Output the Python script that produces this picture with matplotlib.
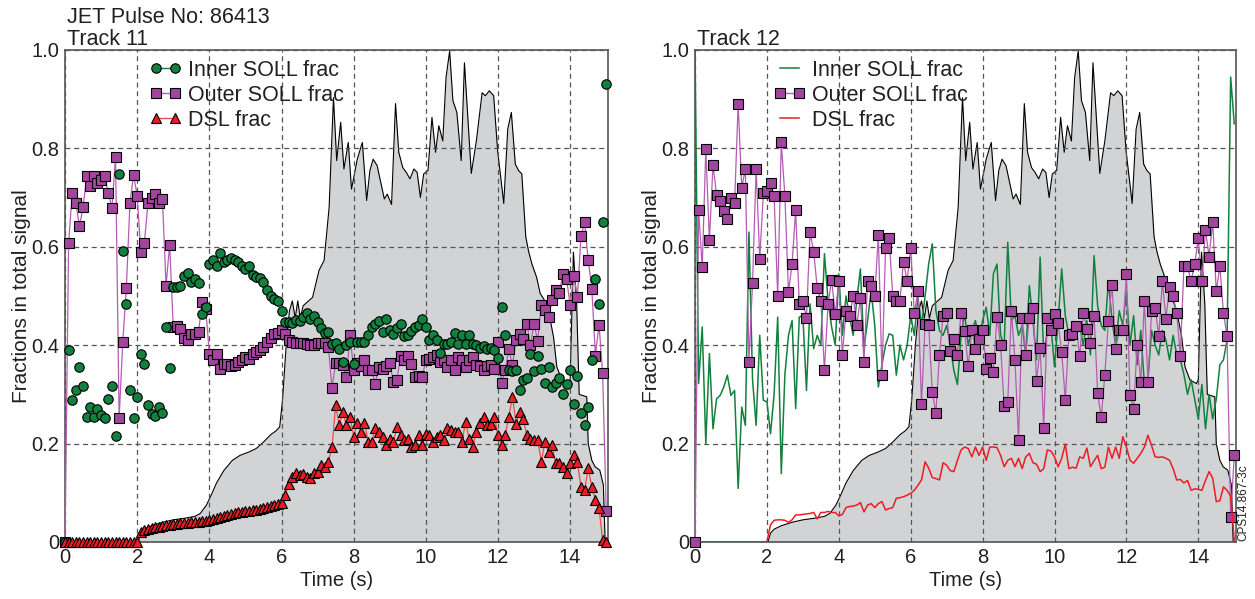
import numpy as np
import matplotlib
matplotlib.use("Agg")
import matplotlib.pyplot as plt
from matplotlib.lines import Line2D

# sample times of the fraction signals (0.1 s steps, 0 - 15 s)
time = np.round(np.linspace(0.0, 15.0, 151), 1)

# total signal (normalised) shown as grey background, same in both panels
signal_t = [0.0, 2.03, 2.1, 2.2, 2.4, 2.7, 3.0, 3.3, 3.6, 3.75, 3.92, 4.05, 4.2, 4.4, 4.64,
            4.85, 5.1, 5.3, 5.5, 5.7, 5.85, 5.95, 6.03, 6.13, 6.22, 6.3, 6.38, 6.45, 6.52,
            6.6, 6.75, 6.86, 7.04, 7.18, 7.32, 7.44, 7.53, 7.64, 7.73, 7.85, 7.94, 8.1,
            8.24, 8.36, 8.45, 8.54, 8.65, 8.85, 8.93, 9.05, 9.16, 9.25, 9.36, 9.46, 9.56,
            9.67, 9.76, 9.85, 9.94, 10.06, 10.17, 10.27, 10.36, 10.47, 10.56, 10.66, 10.75,
            10.86, 10.98, 11.07, 11.26, 11.4, 11.56, 11.65, 11.76, 11.88, 11.99, 12.16,
            12.27, 12.37, 12.48, 12.57, 12.66, 12.77, 12.85, 12.94, 13.07, 13.17, 13.3,
            13.4, 13.54, 13.63, 13.77, 13.95, 14.0, 14.09, 14.18, 14.25, 14.46, 14.5,
            14.6, 14.69, 14.82, 14.92, 14.97, 15.05]
signal_v = [0.0, 0.0, 0.018, 0.026, 0.033, 0.040, 0.045, 0.048, 0.052, 0.058, 0.075, 0.095,
            0.12, 0.145, 0.166, 0.176, 0.183, 0.19, 0.203, 0.218, 0.226, 0.234, 0.29, 0.40,
            0.47, 0.49, 0.455, 0.49, 0.455, 0.48, 0.49, 0.497, 0.552, 0.572, 0.68, 0.903,
            0.775, 0.853, 0.758, 0.812, 0.717, 0.778, 0.812, 0.694, 0.755, 0.778, 0.765,
            0.697, 0.707, 0.686, 0.891, 0.792, 0.761, 0.751, 0.738, 0.758, 0.751, 0.70,
            0.748, 0.755, 0.863, 0.792, 0.846, 0.815, 0.944, 0.998, 0.897, 0.873, 0.775,
            0.974, 0.749, 0.815, 0.913, 0.907, 0.917, 0.907, 0.795, 0.688, 0.839, 0.873,
            0.768, 0.755, 0.748, 0.62, 0.59, 0.565, 0.538, 0.505, 0.49, 0.47, 0.416, 0.356,
            0.329, 0.322, 0.33, 0.589, 0.485, 0.30, 0.295, 0.2, 0.166, 0.153, 0.146, 0.116,
            0.0, 0.0]

# Track 11
t11_inner = [0.0, 0.390, 0.288, 0.308, 0.356, 0.316, 0.254, 0.274, 0.254, 0.270,
             0.258, 0.251, 0.290, 0.318, 0.215, 0.748, 0.592, 0.483, 0.308, 0.251,
             0.295, 0.383, 0.361, 0.278, 0.261, 0.256, 0.274, 0.263, 0.437, 0.354,
             0.518, 0.518, 0.520, 0.540, 0.546, 0.528, 0.535, 0.526, 0.464, 0.477,
             0.565, 0.574, 0.560, 0.588, 0.570, 0.574, 0.577, 0.573, 0.570, 0.560,
             0.555, 0.560, 0.543, 0.539, 0.537, 0.528, 0.513, 0.499, 0.494, 0.489,
             0.469, 0.448, 0.448, 0.445, 0.452, 0.450, 0.458, 0.465, 0.453, 0.460,
             0.447, 0.435, 0.425, 0.427, 0.403, 0.404, 0.393, 0.366, 0.401, 0.407,
             0.362, 0.407, 0.407, 0.407, 0.420, 0.437, 0.444, 0.450, 0.427, 0.454,
             0.430, 0.422, 0.434, 0.444, 0.418, 0.420, 0.428, 0.437, 0.440, 0.454,
             0.437, 0.410, 0.420, 0.410, 0.385, 0.403, 0.403, 0.407, 0.424, 0.403,
             0.420, 0.403, 0.420, 0.403, 0.400, 0.395, 0.398, 0.393, 0.395, 0.390,
             0.373, 0.477, 0.420, 0.349, 0.347, 0.349, 0.308, 0.330, 0.334, 0.383,
             0.348, 0.379, 0.352, 0.323, 0.356, 0.315, 0.323, 0.334, 0.300, 0.322,
             0.349, 0.281, 0.337, 0.262, 0.237, 0.274, 0.369, 0.535, 0.483, 0.650,
             0.930]
t11_outer = [0.0, 0.608, 0.709, 0.689, 0.642, 0.680, 0.743, 0.723, 0.743, 0.729,
             0.736, 0.744, 0.709, 0.678, 0.782, 0.251, 0.406, 0.517, 0.689, 0.746,
             0.704, 0.589, 0.608, 0.689, 0.700, 0.707, 0.689, 0.697, 0.521, 0.604,
             0.437, 0.438, 0.433, 0.415, 0.410, 0.423, 0.423, 0.427, 0.487, 0.474,
             0.383, 0.369, 0.383, 0.352, 0.362, 0.362, 0.358, 0.360, 0.366, 0.370,
             0.375, 0.372, 0.383, 0.386, 0.390, 0.396, 0.406, 0.415, 0.423, 0.425,
             0.430, 0.423, 0.410, 0.406, 0.405, 0.405, 0.404, 0.402, 0.400, 0.400,
             0.404, 0.405, 0.405, 0.396, 0.312, 0.364, 0.363, 0.360, 0.335, 0.420,
             0.349, 0.363, 0.358, 0.370, 0.350, 0.349, 0.322, 0.355, 0.352, 0.357,
             0.363, 0.326, 0.330, 0.379, 0.369, 0.379, 0.362, 0.335, 0.338, 0.336,
             0.369, 0.372, 0.375, 0.380, 0.365, 0.370, 0.355, 0.370, 0.350, 0.375,
             0.370, 0.355, 0.370, 0.375, 0.360, 0.358, 0.350, 0.358, 0.360, 0.352,
             0.406, 0.323, 0.349, 0.393, 0.359, 0.411, 0.422, 0.413, 0.444, 0.400,
             0.444, 0.408, 0.481, 0.471, 0.458, 0.491, 0.513, 0.506, 0.545, 0.535,
             0.481, 0.540, 0.498, 0.621, 0.650, 0.573, 0.515, 0.379, 0.442, 0.343,
             0.063]
t11_dsl = [0.0, 0.0, 0.0, 0.0, 0.0, 0.0, 0.0, 0.0, 0.0, 0.0,
           0.0, 0.0, 0.0, 0.0, 0.0, 0.0, 0.0, 0.0, 0.0, 0.0,
           0.0, 0.020, 0.024, 0.026, 0.028, 0.030, 0.031, 0.033, 0.034, 0.035,
           0.036, 0.037, 0.038, 0.038, 0.039, 0.040, 0.040, 0.041, 0.042, 0.043,
           0.045, 0.047, 0.049, 0.051, 0.053, 0.055, 0.057, 0.058, 0.060, 0.061,
           0.062, 0.063, 0.064, 0.066, 0.068, 0.070, 0.071, 0.073, 0.075, 0.077,
           0.079, 0.095, 0.118, 0.132, 0.140, 0.136, 0.138, 0.132, 0.130, 0.140,
           0.142, 0.156, 0.153, 0.163, 0.193, 0.278, 0.237, 0.264, 0.237, 0.254,
           0.214, 0.242, 0.224, 0.242, 0.203, 0.203, 0.231, 0.224, 0.214, 0.197,
           0.210, 0.203, 0.234, 0.217, 0.207, 0.210, 0.193, 0.197, 0.217, 0.197,
           0.220, 0.217, 0.203, 0.214, 0.217, 0.207, 0.231, 0.228, 0.224, 0.224,
           0.203, 0.244, 0.210, 0.193, 0.224, 0.241, 0.254, 0.237, 0.240, 0.254,
           0.217, 0.197, 0.217, 0.254, 0.295, 0.240, 0.264, 0.250, 0.217, 0.210,
           0.207, 0.207, 0.163, 0.204, 0.183, 0.197, 0.160, 0.160, 0.153, 0.140,
           0.160, 0.176, 0.163, 0.112, 0.105, 0.150, 0.112, 0.085, 0.069, 0.004,
           0.0]

# Track 12
t12_inner = [1.000, 0.322, 0.437, 0.200, 0.383, 0.230, 0.291, 0.298, 0.315, 0.339,
             0.298, 0.308, 0.109, 0.274, 0.237, 0.630, 0.330, 0.237, 0.420, 0.288,
             0.285, 0.220, 0.300, 0.457, 0.139, 0.340, 0.420, 0.450, 0.271, 0.457,
             0.460, 0.308, 0.484, 0.393, 0.420, 0.400, 0.586, 0.491, 0.437, 0.400,
             0.545, 0.420, 0.500, 0.457, 0.420, 0.491, 0.555, 0.393, 0.450, 0.511,
             0.440, 0.315, 0.360, 0.400, 0.423, 0.420, 0.339, 0.400, 0.370, 0.400,
             0.460, 0.420, 0.498, 0.440, 0.500, 0.565, 0.606, 0.470, 0.430, 0.420,
             0.440, 0.400, 0.349, 0.320, 0.420, 0.464, 0.400, 0.430, 0.450, 0.410,
             0.450, 0.477, 0.420, 0.545, 0.565, 0.420, 0.400, 0.609, 0.450, 0.460,
             0.420, 0.440, 0.380, 0.521, 0.450, 0.370, 0.579, 0.376, 0.430, 0.440,
             0.356, 0.450, 0.555, 0.460, 0.420, 0.440, 0.420, 0.440, 0.400, 0.450,
             0.380, 0.582, 0.480, 0.440, 0.430, 0.530, 0.450, 0.400, 0.470, 0.440,
             0.510, 0.400, 0.460, 0.360, 0.430, 0.320, 0.330, 0.430, 0.400, 0.380,
             0.430, 0.410, 0.370, 0.420, 0.380, 0.370, 0.340, 0.300, 0.330, 0.290,
             0.250, 0.320, 0.230, 0.300, 0.250, 0.290, 0.360, 0.370, 0.410, 0.945,
             0.850]
t12_outer = [0.0, 0.675, 0.558, 0.798, 0.613, 0.767, 0.705, 0.692, 0.672, 0.657,
             0.700, 0.688, 0.890, 0.720, 0.759, 0.366, 0.527, 0.759, 0.575, 0.709,
             0.714, 0.730, 0.703, 0.500, 0.812, 0.703, 0.508, 0.565, 0.675, 0.483,
             0.490, 0.456, 0.630, 0.590, 0.517, 0.490, 0.349, 0.483, 0.533, 0.463,
             0.530, 0.381, 0.470, 0.460, 0.499, 0.440, 0.496, 0.366, 0.530, 0.520,
             0.500, 0.624, 0.339, 0.597, 0.617, 0.500, 0.490, 0.490, 0.570, 0.530,
             0.597, 0.465, 0.510, 0.280, 0.443, 0.442, 0.305, 0.262, 0.381, 0.460,
             0.465, 0.389, 0.413, 0.381, 0.466, 0.428, 0.357, 0.430, 0.393, 0.413,
             0.430, 0.352, 0.374, 0.345, 0.457, 0.400, 0.276, 0.285, 0.469, 0.370,
             0.208, 0.456, 0.380, 0.456, 0.475, 0.327, 0.395, 0.232, 0.456, 0.430,
             0.464, 0.445, 0.386, 0.289, 0.420, 0.422, 0.438, 0.378, 0.465, 0.432,
             0.405, 0.460, 0.303, 0.253, 0.340, 0.450, 0.523, 0.393, 0.430, 0.430,
             0.544, 0.298, 0.271, 0.400, 0.325, 0.490, 0.325, 0.470, 0.475, 0.418,
             0.530, 0.454, 0.519, 0.499, 0.465, 0.379, 0.560, 0.560, 0.530, 0.565,
             0.617, 0.530, 0.634, 0.580, 0.650, 0.510, 0.560, 0.465, 0.418, 0.050,
             0.176]
t12_dsl = [0.0, 0.0, 0.0, 0.0, 0.0, 0.0, 0.0, 0.0, 0.0, 0.0,
           0.0, 0.0, 0.0, 0.0, 0.0, 0.0, 0.0, 0.0, 0.0, 0.0,
           0.0, 0.035, 0.044, 0.045, 0.045, 0.044, 0.040, 0.045, 0.055, 0.055,
           0.056, 0.057, 0.058, 0.060, 0.047, 0.060, 0.060, 0.062, 0.060, 0.060,
           0.053, 0.056, 0.070, 0.072, 0.073, 0.075, 0.080, 0.061, 0.075, 0.078,
           0.070, 0.078, 0.082, 0.065, 0.068, 0.070, 0.089, 0.090, 0.092, 0.095,
           0.099, 0.105, 0.115, 0.126, 0.163, 0.150, 0.131, 0.129, 0.126, 0.161,
           0.156, 0.145, 0.143, 0.166, 0.187, 0.193, 0.190, 0.173, 0.193, 0.176,
           0.193, 0.166, 0.193, 0.193, 0.192, 0.176, 0.153, 0.166, 0.170, 0.153,
           0.170, 0.149, 0.173, 0.180, 0.161, 0.158, 0.143, 0.149, 0.187, 0.185,
           0.173, 0.153, 0.170, 0.199, 0.149, 0.152, 0.150, 0.173, 0.170, 0.191,
           0.153, 0.165, 0.176, 0.149, 0.152, 0.193, 0.170, 0.193, 0.170, 0.214,
           0.193, 0.166, 0.160, 0.170, 0.180, 0.193, 0.217, 0.196, 0.173, 0.172,
           0.173, 0.170, 0.166, 0.149, 0.126, 0.127, 0.120, 0.125, 0.105, 0.108,
           0.107, 0.105, 0.125, 0.143, 0.130, 0.082, 0.084, 0.112, 0.105, 0.093,
           0.004]

labels = ["Inner SOLL frac", "Outer SOLL frac", "DSL frac"]
y_ticks = [0, 0.2, 0.4, 0.6, 0.8, 1.0]
y_ticklabels = ["0", "0.2", "0.4", "0.6", "0.8", "1.0"]

TEXT = "#231f20"
GREEN = "#12803e"
PURPLE = "#a3449f"
PURPLE_LINE = "#b55cb2"
RED = "#ed1c24"
RED_LINE = "#f04a4a"
FILL = "#d1d3d4"

plt.rcParams["font.family"] = ["Liberation Sans", "DejaVu Sans"]

fig = plt.figure(figsize=(12.55, 5.99), dpi=100)
ax1 = fig.add_axes([0.0518, 0.0952, 0.4327, 0.8214])
ax2 = fig.add_axes([0.5538, 0.0952, 0.4311, 0.8214])


def setup(ax):
    ax.fill_between(signal_t, signal_v, color=FILL, lw=0, zorder=1)
    ax.plot(signal_t, signal_v, color="black", lw=0.8, zorder=1.2)
    ax.set_xlim(0, 15.05)
    ax.set_ylim(0, 1)
    ax.set_xticks(range(0, 15, 2))
    ax.set_yticks(y_ticks)
    ax.set_yticklabels(y_ticklabels)
    ax.set_axisbelow("line")
    ax.grid(True, ls=(0, (4, 3)), color="#555555", lw=0.9)
    ax.tick_params(length=0, labelsize=14.5, colors=TEXT, pad=4)
    for s in ax.spines.values():
        s.set_color("#555555")
        s.set_linewidth(1.2)
    ax.set_xlabel("Time (s)", fontsize=14.5, color=TEXT)
    ax.set_ylabel("Fractions in total signal", fontsize=15, color=TEXT)
    ax.xaxis.set_label_coords(0.5, -0.058)
    ax.yaxis.set_label_coords(-0.063, 0.5)


setup(ax1)
setup(ax2)

# left panel: markers
ax1.plot(time, t11_outer, color=PURPLE_LINE, lw=0.9, marker="s", ms=6.5, mfc=PURPLE,
         mec="black", mew=0.8, zorder=3, clip_on=False)
ax1.plot(time, t11_inner, ls="none", marker="o", ms=6.8, mfc=GREEN, mec="black",
         mew=0.8, zorder=3.5, clip_on=False)
ax1.plot(time, t11_dsl, color=RED_LINE, lw=0.9, marker="^", ms=6.8, mfc=RED,
         mec="black", mew=0.8, zorder=4, clip_on=False)

h1 = [Line2D([], [], color=GREEN, lw=1, marker="o", ms=6.8, mfc=GREEN, mec="black", mew=0.8),
      Line2D([], [], color=PURPLE_LINE, lw=1, marker="s", ms=6.5, mfc=PURPLE, mec="black", mew=0.8),
      Line2D([], [], color=RED_LINE, lw=1, marker="^", ms=6.8, mfc=RED, mec="black", mew=0.8)]
ax1.legend(h1, labels, loc="upper left", bbox_to_anchor=(0.155, 0.98), frameon=False,
           fontsize=15.5, labelcolor=TEXT, handlelength=1.5, handletextpad=0.3,
           labelspacing=0.18, borderaxespad=0, borderpad=0, numpoints=2)

# right panel: lines
ax2.plot(time, t12_inner, color=GREEN, lw=1.1, zorder=2.5)
ax2.plot(time, t12_outer, color=PURPLE_LINE, lw=0.9, marker="s", ms=6.5, mfc=PURPLE,
         mec="black", mew=0.8, zorder=3, clip_on=False)
ax2.plot(time, t12_dsl, color=RED, lw=1.1, zorder=4)

h2 = [Line2D([], [], color=GREEN, lw=1.1),
      Line2D([], [], color=PURPLE_LINE, lw=1, marker="s", ms=6.5, mfc=PURPLE, mec="black", mew=0.8),
      Line2D([], [], color=RED, lw=1.1)]
ax2.legend(h2, labels, loc="upper left", bbox_to_anchor=(0.145, 0.98), frameon=False,
           fontsize=15.5, labelcolor=TEXT, handlelength=1.5, handletextpad=0.3,
           labelspacing=0.18, borderaxespad=0, borderpad=0, numpoints=2)

ax1.text(0.004, 1.0, "JET Pulse No: 86413\nTrack 11", transform=ax1.transAxes,
         ha="left", va="bottom", fontsize=15.5, color=TEXT, linespacing=1.07)
ax2.text(0.004, 1.0, "Track 12", transform=ax2.transAxes,
         ha="left", va="bottom", fontsize=15.5, color=TEXT)

fig.text(1243 / 1255, 1 - 503 / 599, "CPS14.867-3c", rotation=90, fontsize=8.5,
         color=TEXT, ha="center", va="center")

fig.savefig("out.png", dpi=100)
